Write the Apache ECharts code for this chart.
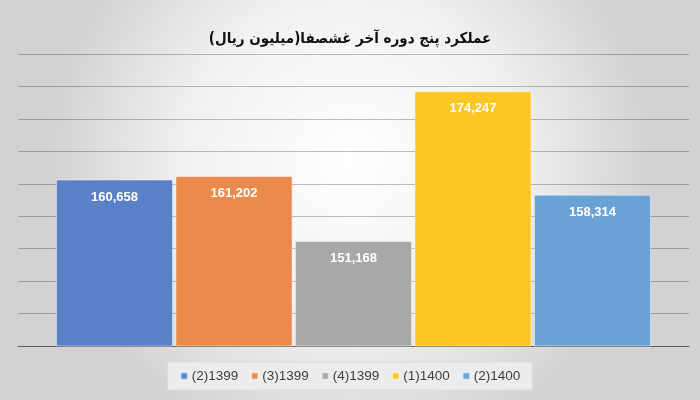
<!DOCTYPE html>
<html><head><meta charset="utf-8">
<script src="https://cdn.jsdelivr.net/npm/echarts@6/dist/echarts.min.js"></script>
<style>html,body{margin:0;padding:0;background:#fff}#c{width:700px;height:400px}</style>
</head><body><div id="c"></div>
<script>
const titleText = 'عملکرد پنج دوره آخر غشصفا(میلیون ریال)';
const periods = ['(2)1399', '(3)1399', '(4)1399', '(1)1400', '(2)1400'];
const values = [160658, 161202, 151168, 174247, 158314];
const colors = ['#5a80c8', '#ec8a4c', '#a8a8a8', '#fdc526', '#6ba2d6'];
const yMin = 135000, yMax = 180000, yStep = 5000;

const chart = echarts.init(document.getElementById('c'));
chart.setOption({
  backgroundColor: {type:'radial', x:0.5, y:0.4, r:0.75,
    colorStops:[{offset:0,color:'#ffffff'},{offset:0.55,color:'#f1f1f1'},{offset:1,color:'#d2d2d2'}]},
  title: {text: titleText, left: 'center', top: 27,
    textStyle:{fontFamily:'DejaVu Sans Condensed, DejaVu Sans', fontWeight:'bold', fontSize:15, color:'#111'}},
  legend: {bottom: 10, left: 'center', itemWidth: 7, itemHeight: 7, itemGap: 12,
    icon: 'rect', backgroundColor:'#ececec', borderColor:'#dcdcdc', borderWidth:1,
    padding:[7,12,7,12],
    textStyle:{fontFamily:'Liberation Sans', fontSize:13.5, color:'#404040', padding:[0,0,0,-1]},
    data: periods},
  grid: {left: 18, right: 11, top: 54, bottom: 54},
  xAxis: {type:'category', data:[''], axisTick:{show:false}, axisLabel:{show:false},
    axisLine:{lineStyle:{color:'rgba(0,0,0,0.4)', width:1}}},
  yAxis: {type:'value', min:yMin, max:yMax, interval:yStep, axisLabel:{show:false},
    axisLine:{show:false}, axisTick:{show:false},
    splitLine:{lineStyle:{color:'rgba(0,0,0,0.25)', width:1}}},
  series: periods.map((p,i)=>({
    name:p, type:'bar', data:[values[i]], barGap:'2%', barCategoryGap:'11.3%',
    itemStyle:{color:colors[i], borderColor:'rgba(255,255,255,0.5)', borderWidth:1},
    label:{show:true, position:'insideTop', distance:11, color:'#fff', fontWeight:'bold',
      fontFamily:'Liberation Sans', fontSize:13,
      formatter: d => d.value.toLocaleString('en-US')}
  }))
});
</script></body></html>
